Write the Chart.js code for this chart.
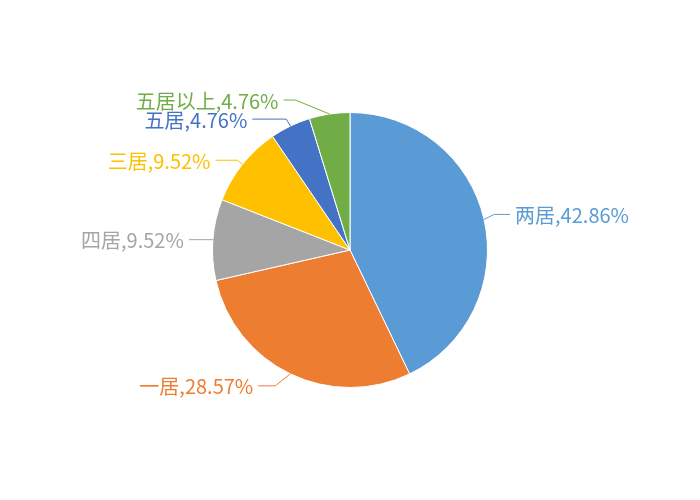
<!DOCTYPE html>
<html>
<head>
<meta charset="utf-8">
<script src="https://cdn.jsdelivr.net/npm/chart.js@4"></script>
<style>
  body { margin: 0; background: #fff; }
  #wrap { width: 700px; height: 500px; }
</style>
</head>
<body>
<div id="wrap"><canvas id="pie" width="700" height="500"></canvas></div>
<script>
const categories = ["两居", "一居", "四居", "三居", "五居", "五居以上"];
const shares = [42.86, 28.57, 9.52, 9.52, 4.76, 4.76];

const sliceColors = ["#5B9BD5", "#ED7D31", "#A5A5A5", "#FFC000", "#4472C4", "#70AD47"];

// leader line elbow offset from slice edge, horizontal run length, side
const leaderLayout = [
  { dx: 10, dy: -5, run: 16, side: 1 },
  { dx: -15, dy: 12, run: 17, side: -1 },
  { dx: 0, dy: 0, run: 24, side: -1 },
  { dx: -5, dy: -4, run: 22, side: -1 },
  { dx: -4, dy: -7, run: 34, side: -1 },
  { dx: -34, dy: -14, run: 12, side: -1 }
];

const leaderLabels = {
  id: "leaderLabels",
  afterDatasetsDraw(chart) {
    const ctx = chart.ctx;
    const arcs = chart.getDatasetMeta(0).data;
    ctx.save();
    ctx.font = "20px 'Noto Sans CJK SC', sans-serif";
    ctx.textBaseline = "middle";
    arcs.forEach((arc, i) => {
      const mid = (arc.startAngle + arc.endAngle) / 2;
      const ex = arc.x + arc.outerRadius * Math.cos(mid);
      const ey = arc.y + arc.outerRadius * Math.sin(mid);
      const lay = leaderLayout[i];
      const bx = ex + lay.dx;
      const by = ey + lay.dy;
      const tx = bx + lay.side * lay.run;
      ctx.strokeStyle = sliceColors[i];
      ctx.lineWidth = 1;
      ctx.beginPath();
      ctx.moveTo(ex, ey);
      ctx.lineTo(bx, by);
      ctx.lineTo(tx, by);
      ctx.stroke();
      ctx.fillStyle = sliceColors[i];
      ctx.textAlign = lay.side > 0 ? "left" : "right";
      const label = categories[i] + "," + shares[i].toFixed(2) + "%";
      ctx.fillText(label, tx + lay.side * 5, by + 1);
    });
    ctx.restore();
  }
};

new Chart(document.getElementById("pie"), {
  type: "pie",
  data: {
    labels: categories,
    datasets: [{
      data: shares,
      backgroundColor: sliceColors,
      borderColor: "#ffffff",
      borderWidth: 1
    }]
  },
  options: {
    responsive: false,
    animation: false,
    layout: { padding: { top: 112, bottom: 112, left: 0, right: 0 } },
    plugins: {
      legend: { display: false },
      tooltip: { enabled: false }
    }
  },
  plugins: [leaderLabels]
});
</script>
</body>
</html>
